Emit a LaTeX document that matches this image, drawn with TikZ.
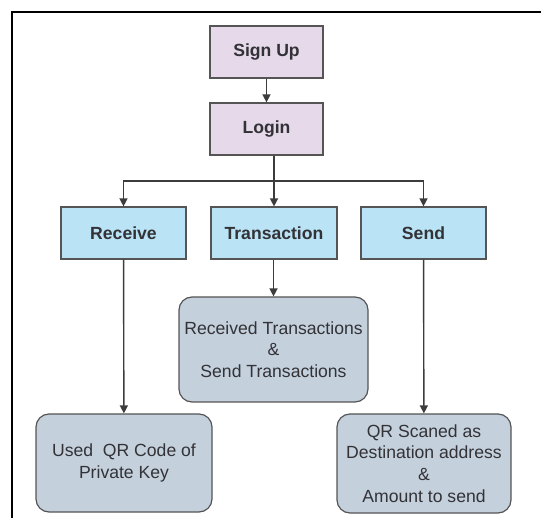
\documentclass[tikz,border=0pt]{standalone}
\usepackage{fontspec}
\setmainfont{Liberation Sans}
\usetikzlibrary{arrows.meta}
\definecolor{lavender}{RGB}{230,218,234}
\definecolor{skyfill}{RGB}{186,227,245}
\definecolor{slatefill}{RGB}{196,208,220}
\definecolor{edgegray}{RGB}{85,85,85}
\definecolor{txtgray}{RGB}{50,50,55}
\definecolor{linegray}{RGB}{60,60,60}
\tikzset{
  stepbase/.style={draw=edgegray, line width=1.2pt, inner sep=0pt, align=center,
    font=\fontsize{17.6}{21.7}\selectfont, text=txtgray},
  userbox/.style={stepbase, fill=lavender, font=\fontsize{17.6}{21.7}\selectfont\bfseries,
    minimum width=113pt, minimum height=52pt},
  menubox/.style={stepbase, fill=skyfill, font=\fontsize{17.6}{21.7}\selectfont\bfseries,
    minimum height=52pt},
  infobox/.style={stepbase, fill=slatefill, rounded corners=13pt},
  flow/.style={draw=linegray, line width=1.4pt, -{Triangle[length=8pt,width=8pt]}},
  trunk/.style={draw=linegray, line width=1.4pt}
}
\begin{document}
\begin{tikzpicture}[x=1pt,y=-1pt]
  \useasboundingbox (0,0) rectangle (541,518);
  % outer frame (top and left edges)
  \draw[line width=2.6pt, black] (12,518) -- (12,12) -- (541,12);

  % boxes
  \node[userbox] (signup) at (266.5,52) {Sign Up};
  \node[userbox] (login) at (266.5,129) {Login};
  \node[menubox, minimum width=125pt] (receive) at (123.5,233) {Receive};
  \node[menubox, minimum width=126pt] (transaction) at (274,233) {Transaction};
  \node[menubox, minimum width=125pt] (send) at (423.5,233) {Send};
  \node[infobox, minimum width=189pt, minimum height=105pt] (history) at (273.5,349.5)
    {Received Transactions\\\&\\Send Transactions};
  \node[infobox, minimum width=176pt, minimum height=98pt] (qrkey) at (124,463)
    {Used\ \ QR Code of\\Private Key};
  \node[infobox, minimum width=174pt, minimum height=99pt] (qrscan) at (424,463.5)
    {QR Scaned as\\Destination address\\\&\\Amount to send};

  % connectors
  \draw[flow] (signup) -- (login);
  \coordinate (split) at (274,181);
  \draw[trunk] (login.south -| split) -- (split);
  \draw[flow] (split) -- (transaction.north);
  \draw[flow] (split) -| (receive.north);
  \draw[flow] (split) -| (send.north);
  \draw[flow] (transaction.south -| history.north) -- (history.north);
  \draw[flow] (receive) -- (qrkey);
  \draw[flow] (send) -- (qrscan);
\end{tikzpicture}
\end{document}
